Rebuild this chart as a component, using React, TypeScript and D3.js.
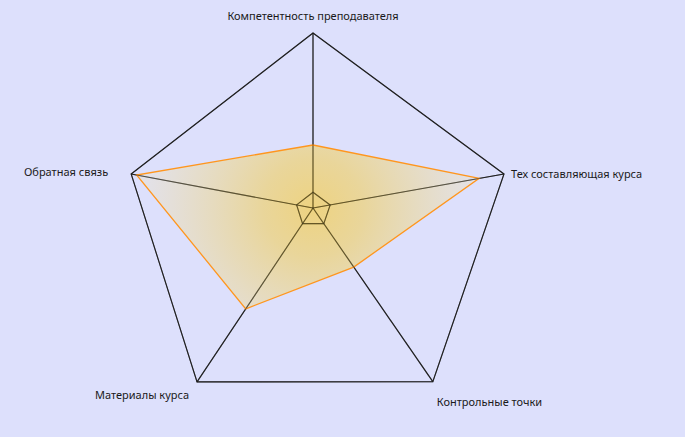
import React, { useEffect, useRef } from "react";
import * as d3 from "d3";

// axes of the radar, clockwise from the top
const axes = [
  "Компетентность преподавателя",
  "Тех составляющая курса",
  "Контрольные точки",
  "Материалы курса",
  "Обратная связь",
];
const scores = [36, 87, 34, 58, 97];
const ringLevels = [9, 100];

// the grid is not a regular pentagon: direction (deg, clockwise from up) and reach of each axis
const axisAngle = [0, 79.9, 145.4, 213.7, 280.6];
const axisReach = [175, 194, 211, 209, 185];
// label placement relative to the outer vertex
const labelDx = [0, 7, 4, -8, -23];
const labelDy = [-17, 0, 20, 13, -2];
const labelAnchor = ["middle", "start", "start", "end", "end"];

const App = () => {
  const ref = useRef<SVGSVGElement>(null);

  useEffect(() => {
    const width = 685;
    const height = 437;
    const cx = 313;
    const cy = 208;

    const r = d3.scaleLinear().domain([0, 100]).range([0, 1]);

    const point = (i: number, v: number): [number, number] => {
      const a = (axisAngle[i] * Math.PI) / 180;
      const d = r(v) * axisReach[i];
      return [cx + d * Math.sin(a), cy - d * Math.cos(a)];
    };

    const svg = d3
      .select(ref.current)
      .attr("width", width)
      .attr("height", height)
      .attr("viewBox", [0, 0, width, height])
      .style("position", "absolute")
      .style("left", 0)
      .style("top", 0)
      .style("background", "#dde0fc");

    svg.selectAll("*").remove();

    const defs = svg.append("defs");
    const grad = defs
      .append("radialGradient")
      .attr("id", "fillGrad")
      .attr("gradientUnits", "userSpaceOnUse")
      .attr("cx", cx)
      .attr("cy", cy)
      .attr("r", 165);
    grad.append("stop").attr("offset", 0).attr("stop-color", "#f9ca2e").attr("stop-opacity", 0.6);
    grad.append("stop").attr("offset", 0.3).attr("stop-color", "#f3cd4a").attr("stop-opacity", 0.55);
    grad.append("stop").attr("offset", 1).attr("stop-color", "#eae2cb").attr("stop-opacity", 0.45);

    const line = d3.line<[number, number]>().curve(d3.curveLinearClosed);

    const drawGrid = (g: d3.Selection<SVGGElement, unknown, null, undefined>) => {
      g.selectAll("path")
        .data(ringLevels)
        .join("path")
        .attr("d", (lv) => line(axes.map((_, i) => point(i, lv))))
        .attr("fill", "none");
      g.selectAll("line")
        .data(axes)
        .join("line")
        .attr("x1", cx)
        .attr("y1", cy)
        .attr("x2", (_, i) => point(i, 100)[0])
        .attr("y2", (_, i) => point(i, 100)[1]);
    };

    // grid under the area
    svg
      .append("g")
      .attr("stroke", "#1e1e1e")
      .attr("stroke-width", 1.1)
      .call(drawGrid);

    // data area
    svg
      .append("path")
      .attr("d", line(scores.map((v, i) => point(i, v))))
      .attr("fill", "url(#fillGrad)")
      .attr("stroke", "#ff961e")
      .attr("stroke-width", 1.3)
      .attr("stroke-linejoin", "miter");

    // faint grid showing through the area
    svg
      .append("g")
      .attr("stroke", "#1e1e1e")
      .attr("stroke-opacity", 0.45)
      .attr("stroke-width", 1.1)
      .call(drawGrid);

    // labels
    svg
      .append("g")
      .attr("font-family", "'Noto Sans', sans-serif")
      .attr("font-size", 11)
      .attr("fill", "#1a1a1a")
      .selectAll("text")
      .data(axes)
      .join("text")
      .attr("x", (_, i) => point(i, 100)[0] + labelDx[i])
      .attr("y", (_, i) => point(i, 100)[1] + labelDy[i])
      .attr("dy", "0.35em")
      .attr("text-anchor", (_, i) => labelAnchor[i])
      .text((d) => d);
  }, []);

  return <svg ref={ref}></svg>;
};

export default App;
